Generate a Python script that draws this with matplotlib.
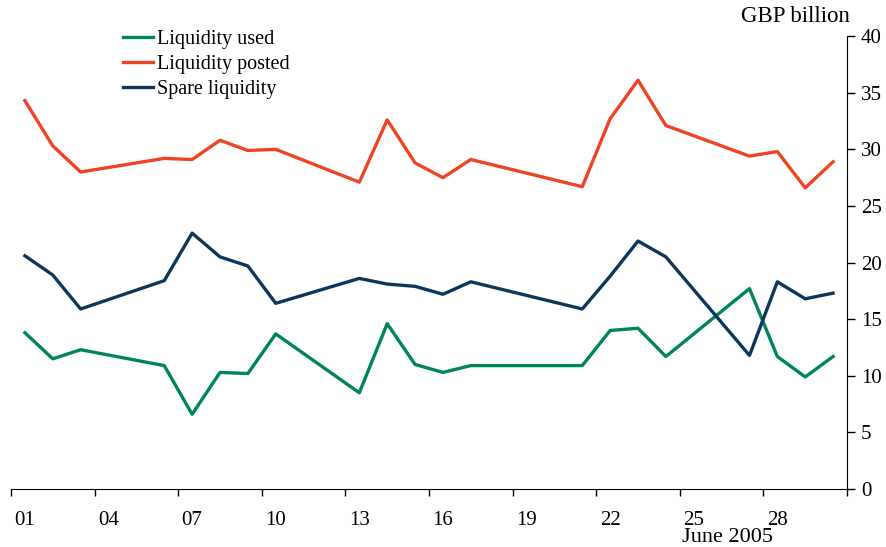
import matplotlib
matplotlib.use("Agg")
import matplotlib.pyplot as plt

# June 2005 business days with data
days = [1, 2, 3, 6, 7, 8, 9, 10, 13, 14, 15, 16, 17, 21, 22, 23, 24, 27, 28, 29, 30]

liquidity_used = [13.8, 11.5, 12.3, 10.9, 6.6, 10.3, 10.2, 13.7, 8.5, 14.6, 11.0,
                  10.3, 10.9, 10.9, 14.0, 14.2, 11.7, 17.7, 11.7, 9.9, 11.7]
liquidity_posted = [34.3, 30.3, 28.0, 29.2, 29.1, 30.8, 29.9, 30.0, 27.1, 32.6, 28.8,
                    27.5, 29.1, 26.7, 32.7, 36.1, 32.1, 29.4, 29.8, 26.6, 28.9]
spare_liquidity = [20.6, 18.9, 15.9, 18.4, 22.6, 20.5, 19.7, 16.4, 18.6, 18.1, 17.9,
                   17.2, 18.3, 15.9, 18.8, 21.9, 20.5, 11.8, 18.3, 16.8, 17.3]

label_days = [1, 4, 7, 10, 13, 16, 19, 22, 25, 28]
tick_labels = ["01", "04", "07", "10", "13", "16", "19", "22", "25", "28"]

plt.rcParams["font.family"] = ["Liberation Serif", "DejaVu Serif"]

fig = plt.figure(figsize=(8.86, 5.47), dpi=100)
ax = fig.add_axes([0.0124, 0.106, 0.9436, 0.828])

ax.plot(days, liquidity_used, color="#00845E", linewidth=2.4, label="Liquidity used")
ax.plot(days, liquidity_posted, color="#EE4325", linewidth=2.4, label="Liquidity posted")
ax.plot(days, spare_liquidity, color="#0C365A", linewidth=2.4, label="Spare liquidity")

ax.set_xlim(0.5, 30.5)
ax.set_ylim(0, 40)

# Spines: bottom and right only
ax.spines["top"].set_visible(False)
ax.spines["left"].set_visible(False)
ax.yaxis.tick_right()
ax.set_yticks(range(0, 41, 5))
ax.tick_params(axis="y", direction="out", length=6, width=1, labelsize=15, pad=4)

# Ticks at day boundaries, labels centred on days
ax.set_xticks([0.5 + 3 * k for k in range(11)])
ax.set_xticklabels([])
ax.set_xticks(label_days, minor=True)
ax.set_xticklabels(tick_labels, minor=True)
ax.tick_params(axis="x", which="major", direction="out", length=5, width=1)
ax.tick_params(axis="x", which="minor", length=0, labelsize=15, pad=16)

fig.text(0.821, 0.0, "June 2005", fontsize=16, ha="center", va="bottom")
fig.text(0.898, 0.95, "GBP billion", fontsize=16.5, ha="center", va="bottom")

fig.legend(loc="upper left", bbox_to_anchor=(0.13, 0.96), frameon=False, fontsize=14.5,
           handlelength=1.5, handletextpad=0.2, labelspacing=0.3, borderaxespad=0)

fig.savefig("out.png", dpi=100)
